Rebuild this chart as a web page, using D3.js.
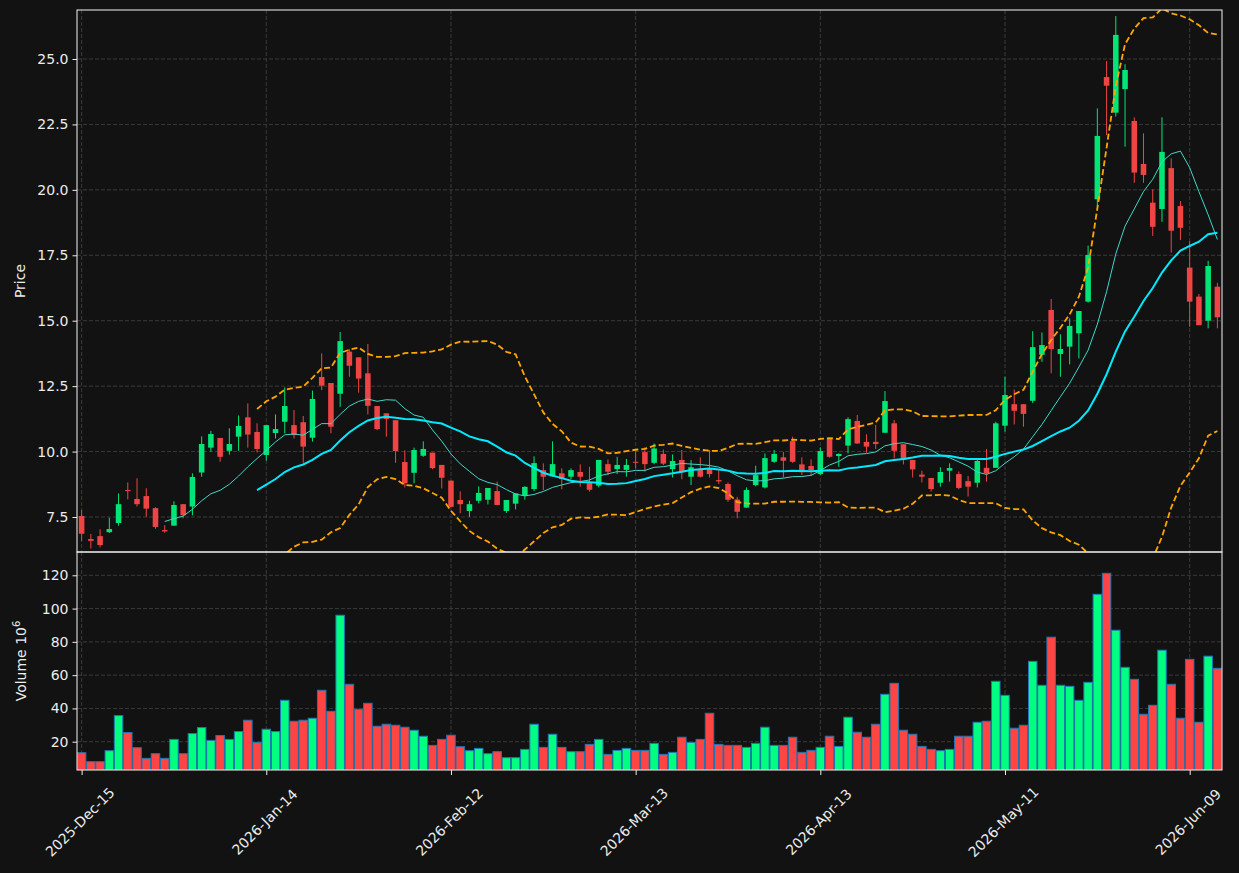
<!DOCTYPE html>
<html>
<head>
<meta charset="utf-8">
<script src="https://cdn.jsdelivr.net/npm/d3@7"></script>
<style>
  html, body { margin: 0; padding: 0; background: #121212; }
  svg { display: block; font-family: "DejaVu Sans", sans-serif; }
</style>
</head>
<body>
<svg width="1239" height="873"></svg>
<script>
// --- Data ---
const opens = [
  7.54, 6.66, 6.77, 6.92, 7.27, 8.53, 8.19, 8.30, 7.84, 7.00,
  7.17, 7.99, 7.90, 9.20, 10.15, 10.52, 10.03, 10.57, 11.31, 10.75,
  9.87, 10.71, 11.14, 11.01, 11.12, 10.53, 12.85, 12.62, 12.21, 13.82,
  13.60, 12.99, 11.74, 11.46, 11.20, 9.60, 9.19, 9.84, 9.96, 9.49,
  8.89, 8.15, 7.73, 8.12, 8.16, 8.49, 7.73, 8.01, 8.31, 8.57,
  9.29, 9.05, 9.17, 9.04, 9.22, 8.81, 8.70, 9.52, 9.33, 9.30,
  9.61, 9.98, 9.57, 9.91, 9.33, 9.68, 9.04, 9.33, 9.33, 8.91,
  8.76, 8.17, 7.86, 8.72, 8.63, 9.61, 9.78, 10.40, 9.51, 9.45,
  9.14, 10.50, 9.83, 10.23, 11.17, 10.37, 10.37, 10.72, 11.08, 10.28,
  9.68, 9.12, 8.99, 8.81, 9.27, 9.14, 8.87, 8.81, 9.38, 9.38,
  10.99, 11.81, 11.81, 11.94, 13.70, 15.41, 13.73, 14.01, 14.52, 15.73,
  19.64, 24.31, 22.95, 23.85, 22.63, 20.99, 19.51, 19.27, 20.83, 19.38,
  17.03, 15.92, 15.00, 16.30
];
const highs = [
  7.77, 6.85, 7.03, 7.47, 8.40, 8.82, 8.98, 8.60, 7.87, 7.19,
  8.10, 7.99, 9.17, 10.58, 10.79, 10.52, 10.89, 11.38, 11.84, 11.08,
  11.01, 11.42, 12.45, 11.59, 11.36, 12.33, 13.75, 12.62, 14.57, 13.91,
  13.60, 14.11, 11.74, 11.46, 11.20, 10.05, 10.15, 10.39, 9.96, 9.49,
  8.89, 8.48, 8.12, 8.67, 8.61, 8.85, 8.15, 8.40, 8.68, 9.82,
  9.55, 10.39, 9.36, 9.36, 9.51, 9.42, 9.68, 9.70, 9.80, 9.72,
  10.02, 10.16, 10.31, 10.08, 9.89, 10.06, 9.68, 9.78, 10.06, 9.29,
  8.82, 8.27, 8.63, 9.46, 9.93, 10.06, 9.99, 10.57, 9.78, 9.70,
  10.16, 10.50, 9.93, 11.31, 11.40, 10.66, 11.02, 12.31, 11.21, 10.28,
  9.68, 9.27, 8.99, 9.40, 9.55, 9.24, 9.07, 9.74, 10.10, 11.14,
  12.86, 12.37, 11.81, 14.60, 14.55, 15.83, 14.48, 15.09, 15.37, 17.87,
  23.11, 24.92, 26.64, 24.80, 22.77, 22.16, 20.02, 22.77, 21.20, 19.57,
  18.04, 16.02, 17.29, 16.45
];
const lows = [
  6.58, 6.30, 6.34, 6.89, 7.17, 8.17, 7.90, 7.51, 7.05, 6.90,
  7.17, 7.45, 7.56, 9.04, 9.99, 9.61, 9.88, 10.03, 10.15, 9.97,
  9.65, 10.50, 10.70, 10.50, 9.57, 10.38, 12.35, 10.70, 11.71, 12.86,
  12.25, 11.42, 10.82, 10.57, 9.57, 8.63, 8.79, 9.80, 9.33, 8.59,
  7.86, 7.64, 7.51, 8.02, 7.98, 7.96, 7.66, 7.79, 8.16, 8.49,
  8.53, 9.05, 8.56, 8.94, 8.66, 8.47, 8.63, 9.10, 9.14, 9.04,
  9.36, 9.23, 9.52, 9.48, 9.01, 8.94, 8.72, 9.01, 9.01, 8.76,
  8.08, 7.45, 7.86, 8.67, 8.59, 9.57, 9.01, 9.57, 9.10, 9.07,
  9.10, 9.77, 9.42, 9.93, 10.29, 9.96, 10.10, 10.72, 9.74, 9.51,
  9.01, 8.82, 8.47, 8.66, 8.85, 8.56, 8.28, 8.63, 8.85, 9.38,
  10.76, 11.04, 10.95, 11.86, 13.43, 12.99, 12.86, 13.33, 13.56, 15.69,
  19.36, 22.09, 22.80, 21.65, 20.27, 20.27, 18.24, 18.78, 17.60, 18.08,
  14.77, 14.83, 14.71, 14.71
];
const closes = [
  6.86, 6.59, 6.43, 7.04, 7.99, 8.49, 7.99, 7.82, 7.12, 6.95,
  7.96, 7.57, 9.03, 10.29, 10.67, 9.80, 10.29, 10.98, 10.65, 10.10,
  11.01, 10.86, 11.74, 10.63, 10.19, 12.01, 12.52, 10.95, 14.22, 13.28,
  12.79, 11.75, 10.86, 11.24, 10.02, 8.79, 10.06, 10.10, 9.37, 9.00,
  7.89, 7.99, 7.99, 8.42, 8.61, 7.96, 8.15, 8.40, 8.65, 9.56,
  9.04, 9.52, 8.95, 9.29, 9.04, 8.54, 9.68, 9.23, 9.49, 9.49,
  9.58, 9.52, 10.12, 9.54, 9.64, 9.21, 9.40, 9.04, 9.14, 8.86,
  8.16, 7.70, 8.53, 9.10, 9.75, 9.91, 9.65, 9.61, 9.21, 9.29,
  10.02, 9.80, 9.91, 11.24, 10.31, 10.19, 10.29, 11.93, 10.03, 9.68,
  9.32, 9.04, 8.57, 9.22, 9.37, 8.61, 8.66, 9.64, 9.17, 11.08,
  12.16, 11.56, 11.44, 13.99, 14.07, 13.92, 13.92, 14.80, 15.37, 17.51,
  22.06, 23.98, 25.92, 24.58, 20.66, 20.57, 18.59, 21.45, 18.44, 18.55,
  15.73, 14.83, 17.09, 15.13
];
// volume in millions
const volumes = [
  13.4, 8.0, 8.0, 14.6, 35.7, 25.5, 16.4, 10.0, 12.8, 10.0,
  21.4, 12.8, 24.9, 28.5, 20.8, 23.7, 21.4, 26.1, 32.9, 19.6,
  27.5, 26.1, 44.9, 32.3, 32.9, 34.1, 50.9, 38.3, 96.0, 54.5,
  39.5, 43.1, 29.3, 30.5, 29.9, 28.7, 26.9, 23.3, 17.8, 21.4,
  23.9, 17.0, 14.6, 16.0, 12.8, 14.0, 10.4, 10.4, 15.4, 30.5,
  16.6, 24.5, 16.6, 14.0, 14.0, 18.4, 21.4, 12.4, 14.8, 16.0,
  14.8, 14.8, 19.0, 12.4, 13.6, 22.7, 19.6, 21.4, 37.1, 18.4,
  17.8, 17.8, 16.6, 19.0, 28.7, 17.8, 17.8, 22.7, 13.6, 14.8,
  16.6, 23.3, 17.2, 34.7, 25.7, 22.7, 30.5, 48.5, 55.1, 26.9,
  24.5, 17.2, 15.4, 14.6, 15.4, 23.3, 23.3, 31.7, 32.3, 56.3,
  47.9, 28.1, 29.9, 68.3, 53.9, 82.8, 53.9, 53.3, 44.9, 55.7,
  108.6, 121.2, 87.0, 64.7, 57.5, 36.5, 41.9, 75.0, 54.5, 34.1,
  69.5, 31.7, 71.4, 64.1
];
const tickIndex = [0, 20, 40, 60, 80, 100, 120];
const tickLabels = ["2025-Dec-15", "2026-Jan-14", "2026-Feb-12", "2026-Mar-13",
                    "2026-Apr-13", "2026-May-11", "2026-Jun-09"];
const priceTicks = [7.5, 10, 12.5, 15, 17.5, 20, 22.5, 25];
const volumeTicks = [20, 40, 60, 80, 100, 120];

// --- indicators (from closes) ---
function sma(arr, n) {
  return arr.map((_, i) => i < n - 1 ? null : d3.mean(arr.slice(i - n + 1, i + 1)));
}
function rollStd(arr, n) {
  return arr.map((_, i) => i < n - 1 ? null : d3.deviation(arr.slice(i - n + 1, i + 1)));
}
const ma10 = sma(closes, 10);
const ma20 = sma(closes, 20);
const sd20 = rollStd(closes, 20);
const bbUp = ma20.map((m, i) => m == null ? null : m + 2 * sd20[i]);
const bbLo = ma20.map((m, i) => m == null ? null : m - 2 * sd20[i]);

// --- D3 setup ---
const svg = d3.select("svg");
const left = 77, right = 1222;
const pTop = 10, pBot = 552, vTop = 552, vBot = 770;
const upColor = "#00e676", downColor = "#ef4444";
const volUp = "#00ff80", volDown = "#ff4444";
const textColor = "#ececec";
const gridColor = "#3a3a3a";

const n = closes.length;
const x = d3.scaleLinear().domain([-0.5, n - 0.5]).range([left, right]);
const yP = d3.scaleLinear().domain([6.163, 26.872]).range([pBot, pTop]);
const yV = d3.scaleLinear().domain([3.0, 134.0]).range([vBot, vTop]);
const step = x(1) - x(0);

const defs = svg.append("defs");
defs.append("clipPath").attr("id", "clipP").append("rect")
  .attr("x", left).attr("y", pTop).attr("width", right - left).attr("height", pBot - pTop);
defs.append("clipPath").attr("id", "clipV").append("rect")
  .attr("x", left).attr("y", vTop).attr("width", right - left).attr("height", vBot - vTop);

// grids
function grid(g, yScale, ticks, y0, y1) {
  g.selectAll(".hg").data(ticks).join("line")
    .attr("x1", left).attr("x2", right)
    .attr("y1", d => yScale(d)).attr("y2", d => yScale(d))
    .attr("stroke", gridColor).attr("stroke-dasharray", "4,2").attr("stroke-width", 1);
  g.selectAll(".vg").data(tickIndex).join("line")
    .attr("x1", d => x(d)).attr("x2", d => x(d))
    .attr("y1", y0).attr("y2", y1)
    .attr("stroke", gridColor).attr("stroke-dasharray", "4,2").attr("stroke-width", 1);
}
grid(svg.append("g"), yP, priceTicks, pTop, pBot);
grid(svg.append("g"), yV, volumeTicks, vTop, vBot);

// candles
const idx = d3.range(n);
const cg = svg.append("g").attr("clip-path", "url(#clipP)");
const bodyW = step * 0.6;
cg.selectAll(".wick").data(idx).join("line")
  .attr("x1", i => x(i)).attr("x2", i => x(i))
  .attr("y1", i => yP(highs[i])).attr("y2", i => yP(lows[i]))
  .attr("stroke", i => closes[i] >= opens[i] ? upColor : downColor)
  .attr("stroke-width", 1);
cg.selectAll(".body").data(idx).join("rect")
  .attr("x", i => x(i) - bodyW / 2).attr("width", bodyW)
  .attr("y", i => yP(Math.max(opens[i], closes[i])))
  .attr("height", i => Math.max(1, Math.abs(yP(opens[i]) - yP(closes[i]))))
  .attr("fill", i => closes[i] >= opens[i] ? upColor : downColor);

// indicator lines
function drawLine(vals, color, width, dash) {
  const line = d3.line().defined(d => d != null)
    .x((d, i) => x(i)).y(d => yP(d));
  cg.append("path").datum(vals)
    .attr("d", line).attr("fill", "none")
    .attr("stroke", color).attr("stroke-width", width)
    .attr("stroke-dasharray", dash || null);
}
drawLine(ma10, "#3fd8c8", 1);
drawLine(ma20, "#00eaff", 2);
drawLine(bbUp, "#ffa500", 1.8, "6,3");
drawLine(bbLo, "#ffa500", 1.8, "6,3");

// volume bars
const vg = svg.append("g").attr("clip-path", "url(#clipV)");
const barW = step * 0.92;
vg.selectAll(".vol").data(idx).join("rect")
  .attr("x", i => x(i) - barW / 2).attr("width", barW)
  .attr("y", i => yV(volumes[i]))
  .attr("height", i => yV(0) - yV(volumes[i]))
  .attr("fill", i => closes[i] >= opens[i] ? volUp : volDown)
  .attr("stroke", "#1f77b4").attr("stroke-width", 1);

// frames
[[pTop, pBot], [vTop, vBot]].forEach(([t, b]) => {
  svg.append("rect").attr("x", left).attr("y", t)
    .attr("width", right - left).attr("height", b - t)
    .attr("fill", "none").attr("stroke", "#f4f4f4").attr("stroke-width", 1);
});

// y axes
const axP = svg.append("g").attr("transform", `translate(${left},0)`)
  .call(d3.axisLeft(yP).tickValues(priceTicks).tickFormat(d3.format(".1f")).tickSize(4.5).tickPadding(4));
const axV = svg.append("g").attr("transform", `translate(${left},0)`)
  .call(d3.axisLeft(yV).tickValues(volumeTicks).tickSize(4.5).tickPadding(4));
[axP, axV].forEach(a => {
  a.select(".domain").remove();
  a.selectAll("line").attr("stroke", textColor);
  a.selectAll("text").attr("fill", textColor).style("font-size", "14px")
    .style("font-family", "DejaVu Sans");
});

// x axis: labels rotated 45deg, centred under the tick
const axX = svg.append("g").attr("transform", `translate(0,${vBot})`)
  .call(d3.axisBottom(x).tickValues(tickIndex).tickFormat((d, i) => tickLabels[i]).tickSize(5));
axX.select(".domain").remove();
axX.selectAll("line").attr("stroke", textColor);
axX.selectAll("text")
  .attr("fill", textColor).style("font-size", "14px").style("font-family", "DejaVu Sans")
  .attr("text-anchor", "middle")
  .attr("dy", "0.35em").attr("y", 0)
  .attr("transform", "translate(-2,52) rotate(-45)");

// axis titles
svg.append("text")
  .attr("transform", `translate(25,${(pTop + pBot) / 2}) rotate(-90)`)
  .attr("text-anchor", "middle").attr("fill", textColor)
  .style("font-size", "14px").text("Price");
const vt = svg.append("text")
  .attr("transform", `translate(26,${(vTop + vBot) / 2}) rotate(-90)`)
  .attr("text-anchor", "middle").attr("fill", textColor)
  .style("font-size", "14px");
vt.append("tspan").text("Volume  10");
vt.append("tspan").attr("dy", -6).style("font-size", "10px").text("6");
</script>
</body>
</html>
